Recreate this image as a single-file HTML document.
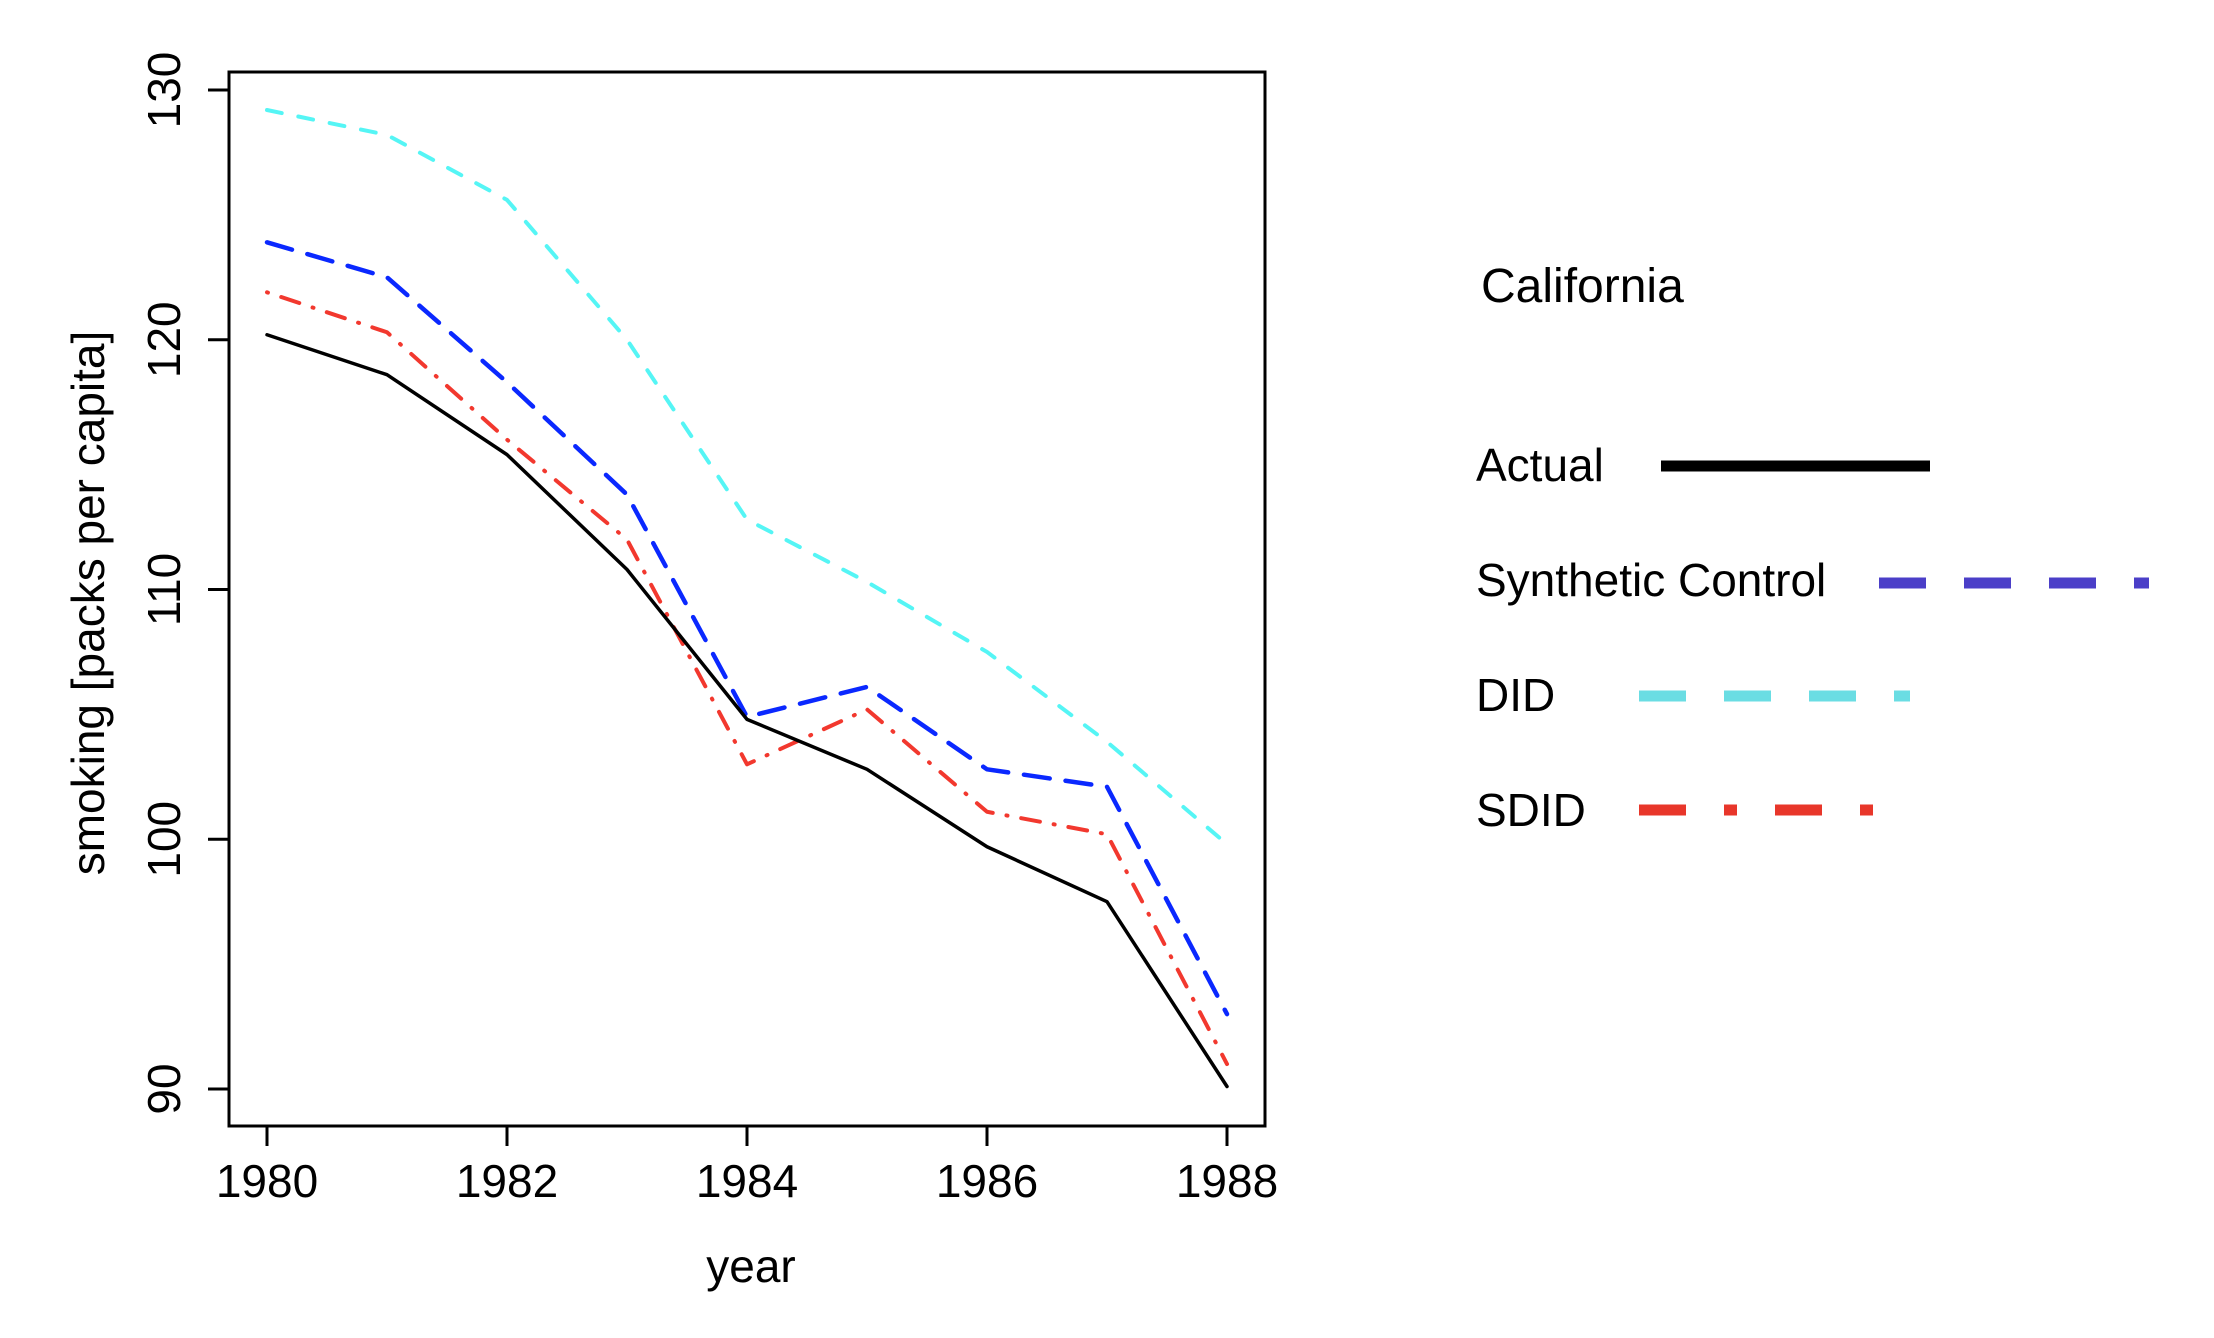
<!DOCTYPE html>
<html><head><meta charset="utf-8"><style>
html,body{margin:0;padding:0;background:#fff;}
svg{display:block;}
</style></head><body>
<svg id="chart" width="2214" height="1338" viewBox="0 0 2214 1338" xmlns="http://www.w3.org/2000/svg">
<g id="plot"></g>
<g id="legend" transform="translate(-8,0)" font-family="Liberation Sans, sans-serif" font-size="46" fill="#000">
  <text x="1489" y="302" font-size="48">California</text>
  <text x="1484" y="481">Actual</text>
  <line x1="1669" y1="466" x2="1938" y2="466" stroke="#000" stroke-width="11"/>
  <text x="1484" y="596">Synthetic Control</text>
  <line x1="1887" y1="583" x2="2157" y2="583" stroke="#4b3fc8" stroke-width="11" stroke-dasharray="47 38"/>
  <text x="1484" y="711">DID</text>
  <line x1="1647" y1="696" x2="1918" y2="696" stroke="#6adde3" stroke-width="11" stroke-dasharray="47 38"/>
  <text x="1484" y="826">SDID</text>
  <line x1="1647" y1="810" x2="1919" y2="810" stroke="#e8362a" stroke-width="11" stroke-dasharray="47 38 13 38"/>
</g>
</svg>
<script>
const years = [1980,1981,1982,1983,1984,1985,1986,1987,1988];
const actual = [120.2,118.6,115.4,110.8,104.8,102.8,99.7,97.5,90.1];
const synthetic = [123.9,122.5,118.3,113.8,104.9,106.1,102.8,102.1,93.0];
const did = [129.2,128.2,125.6,120.0,112.8,110.3,107.5,103.9,99.8];
const sdid = [121.9,120.3,116.0,112.0,103.0,105.2,101.1,100.2,91.0];
const xTicks = [1980,1982,1984,1986,1988];
const yTicks = [90,100,110,120,130];

const NS = 'http://www.w3.org/2000/svg';
const plot = document.getElementById('plot');
function xs(v){ return 267 + (v-1980)*120; }
function ys(v){ return 1089 - (v-90)*24.975; }
function mk(tag, attrs, parent){
  const e = document.createElementNS(NS, tag);
  for (const k in attrs) e.setAttribute(k, attrs[k]);
  (parent||plot).appendChild(e);
  return e;
}
const font = 'Liberation Sans, sans-serif';
const frame = mk('rect',{x:229,y:72,width:1036,height:1054,fill:'none',stroke:'#000','stroke-width':3});


yTicks.forEach(t=>{
  const y = ys(t);
  const l = mk('line',{x1:208,y1:y,x2:229,y2:y,stroke:'#000','stroke-width':3});
  
  
  const tx = mk('text',{x:0,y:0,transform:`translate(180,${y}) rotate(-90)`,'text-anchor':'middle','font-family':font,'font-size':46,fill:'#000'});
  tx.textContent = t;
  
  
});
xTicks.forEach(t=>{
  const x = xs(t);
  const l = mk('line',{x1:x,y1:1126,x2:x,y2:1146,stroke:'#000','stroke-width':3});
  
  
  const tx = mk('text',{x:x,y:1197,'text-anchor':'middle','font-family':font,'font-size':46,fill:'#000'});
  tx.textContent = t;
  
  
});
const xt = mk('text',{x:751,y:1282,'text-anchor':'middle','font-family':font,'font-size':46,fill:'#000'});
xt.textContent = 'year';


const yt = mk('text',{x:0,y:0,transform:'translate(104,603) rotate(-90)','text-anchor':'middle','font-family':font,'font-size':46,fill:'#000'});
yt.textContent = 'smoking [packs per capita]';



function series(vals, color, dash, width, name){
  const pts = vals.map((v,i)=>xs(years[i])+','+ys(v)).join(' ');
  const p = mk('polyline',{points:pts,fill:'none',stroke:color,'stroke-width':width,'stroke-dasharray':dash,'stroke-linejoin':'round','stroke-linecap':'round'});
  
  
}
series(did,'#55f5f5','15 17',4,'series-did');
series(synthetic,'#0a28ff','26 16',4.5,'series-synthetic-control');
series(sdid,'#f2382e','1 14 19 14',4,'series-sdid');
series(actual,'#000','',3.5,'series-actual');
</script>
</body></html>
